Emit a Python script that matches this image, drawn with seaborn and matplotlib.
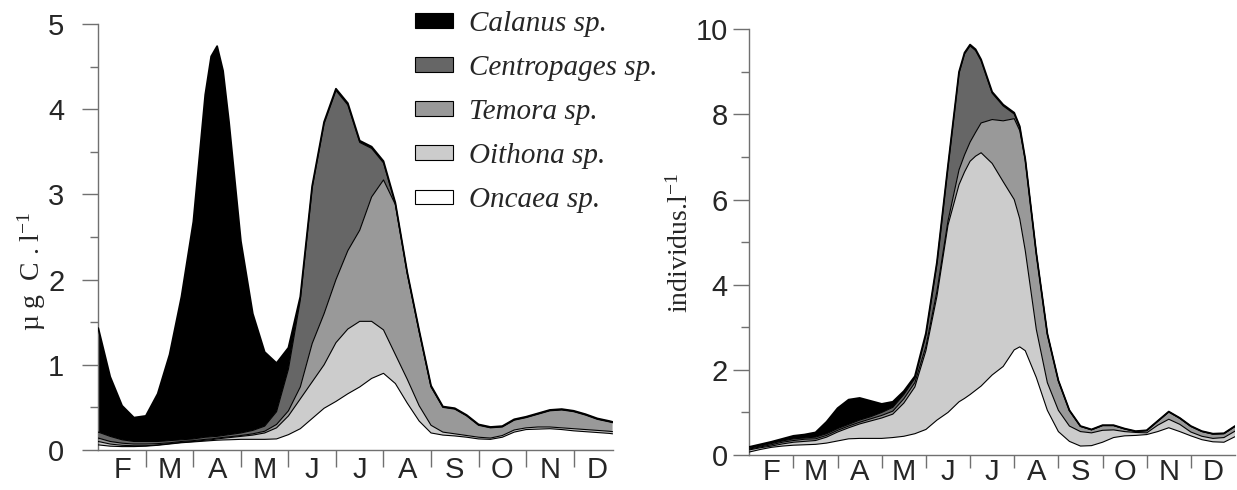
import numpy as np
import pandas as pd
import matplotlib
matplotlib.use("Agg")
import matplotlib.pyplot as plt
from matplotlib.patches import Patch
import seaborn as sns

months = ["F", "M", "A", "M", "J", "J", "A", "S", "O", "N", "D"]
species = ["Calanus sp.", "Centropages sp.", "Temora sp.", "Oithona sp.", "Oncaea sp."]
colors = {"Calanus sp.": "#000000", "Centropages sp.": "#666666",
          "Temora sp.": "#999999", "Oithona sp.": "#cccccc", "Oncaea sp.": "#ffffff"}

# ---------------- left panel : biomass (µg C / l) ----------------
x_left = [0, .25, .5, .75, 1, 1.25, 1.5, 1.75, 2, 2.25, 2.375, 2.5, 2.625, 2.75, 3, 3.25, 3.5,
          3.75, 4, 4.25, 4.5, 4.75, 5, 5.25, 5.5, 5.75, 6, 6.25, 6.5, 6.75, 7, 7.25, 7.5, 7.75,
          8, 8.25, 8.5, 8.75, 9, 9.25, 9.5, 9.75, 10, 10.25, 10.5, 10.75, 10.82]
oncaea_left = [0.06, 0.045, 0.04, 0.04, 0.045, 0.055, 0.07, 0.085, 0.095, 0.105, 0.11, 0.115,
               0.118, 0.12, 0.125, 0.125, 0.125, 0.13, 0.18, 0.25, 0.37, 0.49, 0.57, 0.66, 0.74,
               0.84, 0.90, 0.78, 0.55, 0.34, 0.20, 0.175, 0.165, 0.15, 0.13, 0.125, 0.15, 0.21,
               0.24, 0.245, 0.25, 0.24, 0.225, 0.215, 0.205, 0.195, 0.19]
oithona_left = [0.04, 0.025, 0.015, 0.01, 0.005, 0.005, 0.005, 0.005, 0.005, 0.01, 0.01, 0.015,
                0.02, 0.025, 0.035, 0.05, 0.075, 0.13, 0.22, 0.35, 0.43, 0.51, 0.69, 0.76, 0.77,
                0.67, 0.51, 0.34, 0.28, 0.18, 0.09, 0.035, 0.025, 0.02, 0.02, 0.015, 0.02, 0.025,
                0.02, 0.025, 0.02, 0.02, 0.025, 0.025, 0.025, 0.025, 0.025]
temora_left = [0.04, 0.03, 0.025, 0.02, 0.02, 0.015, 0.01, 0.01, 0.01, 0.01, 0.01, 0.01, 0.01,
               0.01, 0.01, 0.015, 0.02, 0.04, 0.06, 0.14, 0.45, 0.60, 0.74, 0.92, 1.07, 1.46,
               1.76, 1.76, 1.24, 0.87, 0.45, 0.29, 0.29, 0.23, 0.14, 0.12, 0.10, 0.115, 0.12,
               0.15, 0.19, 0.21, 0.20, 0.17, 0.13, 0.11, 0.105]
centropages_left = [0.07, 0.06, 0.04, 0.03, 0.03, 0.025, 0.025, 0.02, 0.02, 0.025, 0.025, 0.02,
                    0.022, 0.025, 0.03, 0.04, 0.06, 0.15, 0.49, 1.02, 1.83, 2.23, 2.22, 1.71,
                    1.03, 0.57, 0.20, 0.01, 0.005, 0.005, 0.005, 0.005, 0.005, 0.005, 0.005,
                    0.005, 0.005, 0.005, 0.005, 0.005, 0.005, 0.005, 0.005, 0.005, 0.005,
                    0.005, 0.005]
calanus_left = [1.22, 0.70, 0.40, 0.28, 0.30, 0.56, 1.01, 1.68, 2.55, 4.02, 4.465, 4.58, 4.28,
                3.67, 2.25, 1.37, 0.87, 0.57, 0.25, 0.04, 0.02, 0.02, 0.02, 0.02, 0.02, 0.02,
                0.02, 0.01, 0.01, 0.01, 0.01, 0.005, 0.005, 0.005, 0.005, 0.005, 0.005, 0.005,
                0.005, 0.005, 0.005, 0.005, 0.005, 0.005, 0.005, 0.005, 0.005]

# ---------------- right panel : abundance (individus / l) ----------------
x_right = [0, .25, .5, .75, 1, 1.25, 1.5, 1.75, 2, 2.25, 2.5, 2.75, 3, 3.25, 3.5, 3.75, 4, 4.25,
           4.5, 4.75, 4.875, 5, 5.125, 5.25, 5.5, 5.75, 6, 6.125, 6.25, 6.5, 6.75, 7, 7.25, 7.5,
           7.75, 8, 8.25, 8.5, 8.75, 9, 9.25, 9.5, 9.75, 10, 10.25, 10.5, 10.75, 11]
oncaea_right = [0.07, 0.13, 0.18, 0.21, 0.23, 0.24, 0.25, 0.28, 0.33, 0.38, 0.39, 0.39, 0.39,
                0.41, 0.44, 0.50, 0.60, 0.82, 1.00, 1.25, 1.33, 1.42, 1.52, 1.62, 1.88, 2.08,
                2.47, 2.54, 2.45, 1.82, 1.05, 0.55, 0.32, 0.21, 0.22, 0.30, 0.41, 0.45, 0.46,
                0.48, 0.55, 0.64, 0.55, 0.45, 0.36, 0.31, 0.30, 0.43]
oithona_right = [0.05, 0.04, 0.03, 0.05, 0.07, 0.08, 0.09, 0.14, 0.21, 0.26, 0.34, 0.41, 0.48,
                 0.55, 0.78, 1.10, 1.85, 2.91, 4.40, 5.10, 5.32, 5.48, 5.50, 5.48, 4.97, 4.34,
                 3.53, 3.01, 2.35, 1.13, 0.65, 0.50, 0.36, 0.34, 0.30, 0.28, 0.18, 0.10, 0.07,
                 0.04, 0.15, 0.20, 0.17, 0.09, 0.08, 0.08, 0.11, 0.13]
temora_right = [0.02, 0.02, 0.03, 0.04, 0.04, 0.05, 0.04, 0.04, 0.04, 0.04, 0.04, 0.05, 0.06,
                0.07, 0.10, 0.10, 0.10, 0.12, 0.10, 0.35, 0.40, 0.45, 0.56, 0.70, 1.03, 1.43,
                1.90, 2.07, 2.13, 1.78, 1.14, 0.69, 0.36, 0.12, 0.07, 0.11, 0.10, 0.06, 0.02,
                0.05, 0.09, 0.17, 0.14, 0.13, 0.11, 0.10, 0.09, 0.11]
centropages_right = [0.02, 0.02, 0.03, 0.03, 0.04, 0.03, 0.04, 0.04, 0.04, 0.04, 0.05, 0.05,
                     0.07, 0.09, 0.10, 0.10, 0.27, 0.65, 1.27, 2.27, 2.37, 2.26, 1.92, 1.46,
                     0.62, 0.35, 0.11, 0.08, 0.01, 0.005, 0.005, 0.005, 0.005, 0.005, 0.005,
                     0.005, 0.005, 0.005, 0.005, 0.005, 0.005, 0.005, 0.005, 0.005, 0.005,
                     0.005, 0.005, 0.005]
calanus_right = [0.03, 0.04, 0.04, 0.05, 0.07, 0.08, 0.11, 0.28, 0.48, 0.58, 0.52, 0.37, 0.20,
                 0.13, 0.08, 0.05, 0.04, 0.03, 0.03, 0.03, 0.03, 0.03, 0.03, 0.03, 0.03, 0.03,
                 0.03, 0.02, 0.01, 0.005, 0.005, 0.005, 0.005, 0.005, 0.005, 0.005, 0.005,
                 0.005, 0.005, 0.005, 0.005, 0.005, 0.005, 0.005, 0.005, 0.005, 0.005, 0.005]

left_series = {"Oncaea sp.": oncaea_left, "Oithona sp.": oithona_left, "Temora sp.": temora_left,
               "Centropages sp.": centropages_left, "Calanus sp.": calanus_left}
right_series = {"Oncaea sp.": oncaea_right, "Oithona sp.": oithona_right,
                "Temora sp.": temora_right, "Centropages sp.": centropages_right,
                "Calanus sp.": calanus_right}

sns.set_style("ticks")
plt.rcParams["font.family"] = ["Liberation Sans", "DejaVu Sans"]
plt.rcParams["mathtext.fontset"] = "custom"
plt.rcParams["mathtext.rm"] = "Liberation Serif"
plt.rcParams["mathtext.it"] = "Liberation Serif:italic"

W, H = 1237, 490
fig = plt.figure(figsize=(W / 100, H / 100), dpi=100)
ax1 = fig.add_axes([98.3 / W, (H - 450) / H, 514.3 / W, 426 / H])
ax2 = fig.add_axes([749.3 / W, (H - 455) / H, 485.7 / W, 425.7 / H])

axis_col = "#707070"


def draw_stack(ax, x, series):
    x = np.asarray(x, float)
    base = np.zeros_like(x)
    tops = []
    for name in ["Oncaea sp.", "Oithona sp.", "Temora sp.", "Centropages sp.", "Calanus sp."]:
        top = base + np.asarray(series[name], float)
        ax.fill_between(x, base, top, facecolor=colors[name], edgecolor="none", lw=0, zorder=2)
        tops.append(top)
        base = top
    for i, top in enumerate(tops):
        df = pd.DataFrame({"x": x, "y": top})
        sns.lineplot(data=df, x="x", y="y", ax=ax, color="black",
                     lw=1.3 if i == len(tops) - 1 else 0.8, estimator=None, sort=False,
                     zorder=3)


draw_stack(ax1, x_left, left_series)
draw_stack(ax2, x_right, right_series)


def style_axis(ax, xmax, ymax, ymajor, yminor, xtick_len, ypad, xpad):
    ax.set_xlim(0, xmax)
    ax.set_ylim(0, ymax)
    for s in ["top", "right"]:
        ax.spines[s].set_visible(False)
    for s in ["left", "bottom"]:
        ax.spines[s].set_color(axis_col)
        ax.spines[s].set_linewidth(1.0)
    ax.set_xticks(np.arange(1, 11))
    ax.set_xticklabels([])
    ax.set_xticks(np.arange(len(months)) + 0.5, minor=True)
    ax.set_xticklabels(months, minor=True)
    ax.tick_params(axis="x", which="major", length=xtick_len, width=1.0, color=axis_col,
                   direction="out")
    ax.tick_params(axis="x", which="minor", length=0, pad=xpad, labelsize=21)
    ax.set_yticks(ymajor)
    ax.set_yticks(yminor, minor=True)
    ax.tick_params(axis="y", which="major", length=11.5, width=1.0, color=axis_col,
                   direction="out", labelsize=21, pad=ypad)
    ax.tick_params(axis="y", which="minor", length=5.5, width=1.0, color=axis_col,
                   direction="out")
    ax.set_xlabel("")


style_axis(ax1, 10.82, 5, np.arange(0, 6), np.arange(0.5, 5, 1.0), 12, 13, 4)
style_axis(ax2, 11, 10, np.arange(0, 11, 2), np.arange(1, 10, 2), 9.5, 4, 2.5)

serif = ["Liberation Serif", "DejaVu Serif"]
ax1.set_ylabel("µ g  C . l$^{-1}$", family=serif, fontsize=20)
ax1.yaxis.label.set_va("center")
ax1.yaxis.set_label_coords(-0.13, 0.42)
ax2.set_ylabel("individus.l$^{-1}$", family=serif, fontsize=20)
ax2.yaxis.label.set_va("center")
ax2.yaxis.set_label_coords(-0.142, 0.497)

handles = [Patch(facecolor=colors[s], edgecolor="black", lw=0.8, label=s) for s in species]
leg = fig.legend(handles=handles, loc="upper left", bbox_to_anchor=(415 / W, 1 - 11 / H),
                 frameon=False, borderpad=0, borderaxespad=0, handlelength=1.3,
                 handleheight=0.4, handletextpad=0.55, labelspacing=0.62,
                 prop={"family": serif, "style": "italic", "size": 21})

fig.savefig("out.png", dpi=100)
